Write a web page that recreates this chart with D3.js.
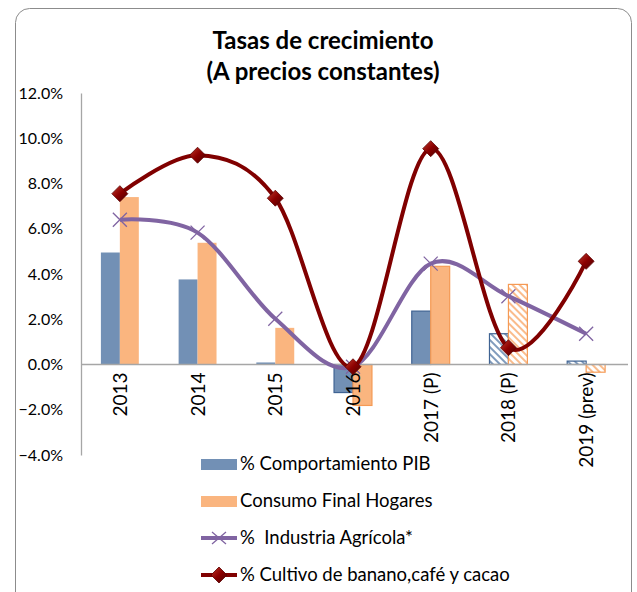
<!DOCTYPE html>
<html><head><meta charset="utf-8">
<script src="https://cdn.jsdelivr.net/npm/d3@7"></script>
<style>body{margin:0;background:#fff}svg{display:block}text{font-family:Lato,"Open Sans",sans-serif}</style>
</head><body>
<svg id="c" width="637" height="592"></svg>
<script>
const categories = ["2013","2014","2015","2016","2017 (P)","2018 (P)","2019 (prev)"];
const pib = [4.95, 3.76, 0.09, -1.24, 2.36, 1.36, 0.15];
const consumo = [7.40, 5.38, 1.62, -1.81, 4.34, 3.54, -0.34];
const industria = [6.40, 5.83, 2.02, -0.10, 4.46, 3.02, 1.36];
const cultivo = [7.55, 9.25, 7.35, -0.10, 9.54, 0.74, 4.56];
const yTicks = [-4, -2, 0, 2, 4, 6, 8, 10, 12];
const seriesNames = ["% Comportamiento PIB", "Consumo Final Hogares", "%  Industria Agrícola*", "% Cultivo de banano,café y cacao"];
const hatched = ["2018 (P)", "2019 (prev)"];
const bordered = ["2016", "2017 (P)"];

const svg = d3.select("#c");
const blue = "#7290B5", blueDark = "#3F6393", orange = "#FAB57F", orangeDark = "#F59A55", purple = "#8064A2", red = "#800000";

// frame
svg.append("rect").attr("x",15.5).attr("y",8.5).attr("width",616).attr("height",620).attr("rx",14)
  .attr("fill","#fff").attr("stroke","#8c8c8c").attr("stroke-width",1);

const defs = svg.append("defs");
function hatch(id, color){
  const p = defs.append("pattern").attr("id",id).attr("patternUnits","userSpaceOnUse")
    .attr("width",5).attr("height",5).attr("patternTransform","rotate(-45)");
  p.append("rect").attr("width",5).attr("height",5).attr("fill","#fff");
  p.append("line").attr("x1",1).attr("y1",0).attr("x2",1).attr("y2",5).attr("stroke",color).attr("stroke-width",1.8);
}
hatch("hb", blue); hatch("ho", orange);
const g = defs.append("linearGradient").attr("id","dg").attr("x1","0").attr("y1","0").attr("x2","1").attr("y2","1");
g.append("stop").attr("offset","0").attr("stop-color","#c0392b");
g.append("stop").attr("offset","0.5").attr("stop-color","#8b0000");
g.append("stop").attr("offset","1").attr("stop-color","#4a0000");

// title
svg.append("text").attr("x",323).attr("y",49).attr("text-anchor","middle").attr("font-size",24).attr("font-weight","bold").text("Tasas de crecimiento");
svg.append("text").attr("x",323).attr("y",80).attr("text-anchor","middle").attr("font-size",24).attr("font-weight","bold").text("(A precios constantes)");

const y = d3.scaleLinear().domain([-4,12]).range([455,93]);
const x = d3.scaleBand().domain(categories).range([81,625]).padding(0);
const x1 = d3.scaleBand().domain(["pib","consumo"]).range([0,x.bandwidth()]).paddingInner(0).paddingOuter(1.05);

// y axis
const yAxis = d3.axisLeft(y).tickValues(yTicks).tickSize(0).tickPadding(18).tickFormat(d => d3.format(".1f")(d) + "%");
const ya = svg.append("g").attr("transform","translate(81,0)").call(yAxis);
ya.select(".domain").attr("stroke","#a6a6a6").attr("stroke-width",1.3);
ya.selectAll("text").attr("font-size",16).attr("fill","#000").attr("font-family","Lato,sans-serif");

// bars
function drawBars(vals, key, fill, dark, hid){
  svg.append("g").selectAll("rect").data(vals.map((v,i)=>({v, c:categories[i]}))).join("rect")
    .attr("x", d => x(d.c) + x1(key))
    .attr("width", x1.bandwidth())
    .attr("y", d => y(Math.max(0,d.v)))
    .attr("height", d => Math.abs(y(d.v) - y(0)))
    .attr("fill", d => hatched.includes(d.c) ? `url(#${hid})` : fill)
    .attr("stroke", d => (hatched.includes(d.c) || bordered.includes(d.c)) ? dark : "none")
    .attr("stroke-width", 1.2);
}
drawBars(pib, "pib", blue, blueDark, "hb");
drawBars(consumo, "consumo", orange, orangeDark, "ho");

// zero line
svg.append("line").attr("x1",81).attr("x2",628).attr("y1",y(0)).attr("y2",y(0)).attr("stroke","#a6a6a6").attr("stroke-width",1.3);

// category labels
svg.append("g").selectAll("text").data(categories).join("text")
  .attr("transform", d => `translate(${x(d)+x.bandwidth()/2+7},${y(0)+8}) rotate(-90)`)
  .attr("text-anchor","end").attr("font-size",19).text(d => d);

// lines
const cx = (d,i) => x(categories[i]) + x.bandwidth()/2;
const line = d3.line().x(cx).y(d => y(d)).curve(d3.curveCardinal.tension(0));
svg.append("path").datum(industria).attr("d",line).attr("fill","none").attr("stroke",purple).attr("stroke-width",4);
svg.append("g").selectAll("path").data(industria).join("path")
  .attr("d", (d,i) => { const X=cx(d,i), Y=y(d), s=7; return `M${X-s},${Y-s}L${X+s},${Y+s}M${X-s},${Y+s}L${X+s},${Y-s}`; })
  .attr("stroke",purple).attr("stroke-width",1.3).attr("fill","none");

svg.append("path").datum(cultivo).attr("d",line).attr("fill","none").attr("stroke",red).attr("stroke-width",4);
svg.append("g").selectAll("path").data(cultivo).join("path")
  .attr("d", (d,i) => { const X=cx(d,i), Y=y(d), s=8; return `M${X},${Y-s}L${X+s},${Y}L${X},${Y+s}L${X-s},${Y}Z`; })
  .attr("fill","url(#dg)").attr("stroke","#5a0000").attr("stroke-width",0.8);

// legend
const ly = [464, 501, 538, 575];
const lg = svg.append("g");
lg.append("rect").attr("x",201).attr("y",ly[0]-5).attr("width",36).attr("height",11).attr("fill",blue);
lg.append("rect").attr("x",201).attr("y",ly[1]-5).attr("width",36).attr("height",11).attr("fill",orange);
lg.append("line").attr("x1",201).attr("x2",237).attr("y1",ly[2]).attr("y2",ly[2]).attr("stroke",purple).attr("stroke-width",4);
lg.append("path").attr("d",`M${219-7},${ly[2]-6}L${219+7},${ly[2]+6}M${219-7},${ly[2]+6}L${219+7},${ly[2]-6}`).attr("stroke",purple).attr("stroke-width",1.3);
lg.append("line").attr("x1",201).attr("x2",237).attr("y1",ly[3]).attr("y2",ly[3]).attr("stroke",red).attr("stroke-width",4);
lg.append("path").attr("d",`M219,${ly[3]-8}L227,${ly[3]}L219,${ly[3]+8}L211,${ly[3]}Z`).attr("fill","url(#dg)").attr("stroke","#5a0000").attr("stroke-width",0.8);
lg.selectAll("text").data(seriesNames).join("text")
  .attr("x",240).attr("y",(d,i)=>ly[i]+6).attr("font-size",18.5).attr("xml:space","preserve").style("white-space","pre").text(d=>d);
</script>
</body></html>
